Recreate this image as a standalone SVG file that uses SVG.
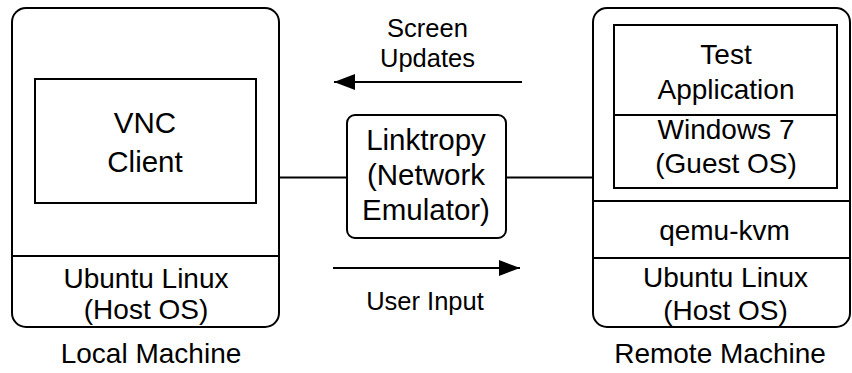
<svg xmlns="http://www.w3.org/2000/svg" width="852" height="373" viewBox="0 0 852 373">
<defs>
<style>
.b{fill:#fff;stroke:#000;stroke-width:2}
.l{fill:none;stroke:#000;stroke-width:2}
text{font-family:"Liberation Sans",Arial,sans-serif;fill:#000;text-anchor:middle}
.t29{font-size:29.5px}
.t27{font-size:28px}
.t25{font-size:25.5px}
</style>
<marker id="ah" markerWidth="21" markerHeight="16" refX="21" refY="8" orient="auto" markerUnits="userSpaceOnUse">
<path d="M0,0 L21,8 L0,16 Z" fill="#000"/>
</marker>
</defs>
<rect width="852" height="373" fill="#fff"/>
<g id="connectors">
<line class="l" x1="279" y1="177.5" x2="347" y2="177.5"/>
<line class="l" x1="506" y1="177.5" x2="593" y2="177.5"/>
<line class="l" x1="522" y1="82" x2="334" y2="82" marker-end="url(#ah)"/>
<line class="l" x1="333" y1="268" x2="520" y2="268" marker-end="url(#ah)"/>
<text class="t25" x="427.5" y="36.7">Screen</text>
<text class="t25" x="427.5" y="67">Updates</text>
<text class="t25" x="425" y="310">User Input</text>
</g>
<g id="local-machine">
<rect class="b" x="12" y="8" width="267" height="319" rx="14"/>
<line class="l" x1="12" y1="256" x2="279" y2="256"/>
<text class="t27" x="146" y="288">Ubuntu Linux</text>
<text class="t27" x="146" y="318.5">(Host OS)</text>
<text class="t27" x="151" y="362.5">Local Machine</text>
</g>
<g id="vnc-client">
<rect class="b" x="35" y="79" width="221" height="124"/>
<text class="t29" x="145" y="133.3">VNC</text>
<text class="t29" x="145" y="171.7">Client</text>
</g>
<g id="linktropy">
<rect class="b" x="347" y="115" width="159" height="123" rx="8"/>
<text class="t29" x="426" y="150">Linktropy</text>
<text class="t29" x="426" y="185">(Network</text>
<text class="t29" x="426" y="220">Emulator)</text>
</g>
<g id="remote-machine">
<rect class="b" x="593" y="8" width="257" height="319" rx="14"/>
<line class="l" x1="593" y1="201" x2="850" y2="201"/>
<line class="l" x1="593" y1="258" x2="850" y2="258"/>
<text class="t27" x="724.5" y="240">qemu-kvm</text>
<text class="t27" x="725.5" y="286.7">Ubuntu Linux</text>
<text class="t27" x="725.5" y="320">(Host OS)</text>
<text class="t27" x="720" y="363">Remote Machine</text>
</g>
<g id="guest">
<rect class="b" x="614" y="25" width="223" height="163"/>
<line class="l" x1="614" y1="115" x2="837" y2="115"/>
<text class="t27" x="726" y="64.3">Test</text>
<text class="t27" x="726" y="99">Application</text>
<text class="t27" x="726" y="139">Windows 7</text>
<text class="t27" x="726" y="173">(Guest OS)</text>
</g>
</svg>
